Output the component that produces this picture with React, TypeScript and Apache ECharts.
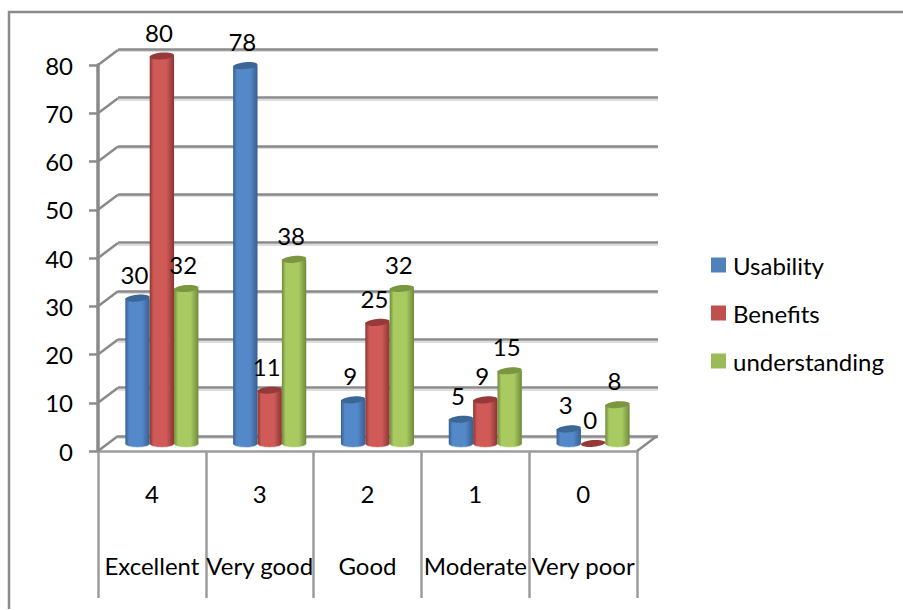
import React, { useEffect, useRef } from "react";
import * as echarts from "echarts";

// Survey ratings per category
const scores = ["4", "3", "2", "1", "0"];
const ratings = ["Excellent", "Very good", "Good", "Moderate", "Very poor"];
const usability = [30, 78, 9, 5, 3];
const benefits = [80, 11, 25, 9, 0];
const understanding = [32, 38, 32, 15, 8];
const valueTicks = [0, 10, 20, 30, 40, 50, 60, 70, 80];

const FONT = "Lato, sans-serif";
const TEXT_SIZE = 24;
const AXIS_GREY = "#8a8a8a";
const SEPARATOR_GREY = "#9c9c9c";

// Face colours of a cylinder: edge, centre, top cap, base fringe
const palette = {
  Usability: { edge: "#365f91", mid: "#5489c9", cap: "#3b6797", base: "#c3d7ee", legend: "#4f81bd" },
  Benefits: { edge: "#8a3532", mid: "#cf5a57", cap: "#953a38", base: "#eccccb", legend: "#c0504d" },
  understanding: { edge: "#6f8a3c", mid: "#a8ca60", cap: "#7a963f", base: "#e2eecb", legend: "#9bbb59" },
};

// Depth offset between the front axes and the back wall
const DX = 20;
const DY = 15;
const FRONT = { left: 98, right: 637, top: 65, bottom: 451 };

function cylinder(slot: number, colors: (typeof palette)["Usability"]) {
  return (params: any, api: any) => {
    const index = api.value(0);
    const value = api.value(1);
    const [cx0, base] = api.coord([index, 0]);
    const [, top] = api.coord([index, value]);
    const band = api.size([1, 0])[0];
    const width = band * 0.226;
    const cx = cx0 + slot * width;
    const rx = width / 2;
    const ry = 3.4;
    const tilt = 0.09;
    const body = new echarts.graphic.LinearGradient(0, 0, 1, 0, [
      { offset: 0, color: colors.edge },
      { offset: 0.16, color: colors.mid },
      { offset: 0.68, color: colors.mid },
      { offset: 1, color: colors.edge },
    ]);
    const children: any[] = [];
    if (value > 0) {
      children.push(
        { type: "ellipse", shape: { cx, cy: base + 0.8, rx, ry }, style: { fill: colors.base } },
        { type: "ellipse", shape: { cx, cy: base, rx, ry }, style: { fill: body } },
        { type: "rect", shape: { x: cx - rx, y: top, width, height: base - top }, style: { fill: body } }
      );
    }
    children.push(
      {
        type: "ellipse",
        shape: { cx, cy: top, rx, ry },
        rotation: tilt,
        originX: cx,
        originY: top,
        style: { fill: colors.cap },
      },
      {
        type: "text",
        x: cx - 3,
        y: top - 24,
        style: {
          text: String(value),
          align: "center",
          verticalAlign: "middle",
          font: `${TEXT_SIZE}px ${FONT}`,
          fill: "#000",
        },
      }
    );
    return { type: "group", children };
  };
}

function seriesFor(name: keyof typeof palette, values: number[], slot: number) {
  return {
    type: "custom",
    name,
    xAxisIndex: 0,
    yAxisIndex: 0,
    z: 5,
    itemStyle: { color: palette[name].legend },
    encode: { x: 0, y: 1 },
    data: values.map((v, i) => [i, v]),
    renderItem: cylinder(slot, palette[name]),
  };
}

export default function App() {
  const ref = useRef<HTMLDivElement>(null);

  useEffect(() => {
    const chart = echarts.init(ref.current!, undefined, { renderer: "svg" });
    const frontY = (v: number) =>
      FRONT.bottom - (v / 80) * (FRONT.bottom - FRONT.top);
    const line = (x1: number, y1: number, x2: number, y2: number) => ({
      type: "line",
      z: 1,
      shape: { x1, y1, x2, y2 },
      style: { stroke: AXIS_GREY, lineWidth: 2.5 },
    });
    const wallGrid = (offset: number) => ({
      left: FRONT.left + DX,
      width: FRONT.right - FRONT.left + 1,
      top: FRONT.top - DY - 1 + offset,
      height: FRONT.bottom - FRONT.top + 1,
    });
    const wallX = (gridIndex: number) => ({ gridIndex, type: "category", data: scores, show: false });
    const wallY = (gridIndex: number, color: number | string, width: number, z: number) => ({
      gridIndex,
      type: "value",
      min: 0,
      max: 80,
      interval: 10,
      z,
      axisLine: { show: false },
      axisTick: { show: false },
      axisLabel: { show: false },
      splitLine: { lineStyle: { color, width } },
    });

    chart.setOption({
      animation: false,
      backgroundColor: "#ffffff",
      textStyle: { fontFamily: FONT },
      legend: {
        orient: "vertical",
        left: 711,
        top: 253,
        padding: 0,
        itemWidth: 15,
        itemHeight: 15,
        itemGap: 24,
        icon: "rect",
        textStyle: { fontSize: TEXT_SIZE, fontFamily: FONT, color: "#000", padding: [0, 0, 0, 2] },
        data: ["Usability", "Benefits", "understanding"],
      },
      grid: [
        // cylinders, set between the front axes and the back wall
        { left: 108, width: 539, top: 56, height: 387.5 },
        // back wall and the pale edge under its lines
        wallGrid(0),
        wallGrid(2),
        // front axes
        { left: FRONT.left, width: FRONT.right - FRONT.left, top: FRONT.top, height: FRONT.bottom - FRONT.top },
      ],
      xAxis: [
        wallX(0),
        wallX(1),
        wallX(2),
        {
          gridIndex: 3,
          type: "category",
          data: scores,
          axisLine: { lineStyle: { color: SEPARATOR_GREY, width: 2.5 } },
          axisTick: { show: true, interval: 0, length: 147, lineStyle: { color: SEPARATOR_GREY, width: 2.5 } },
          axisLabel: { margin: 30, fontSize: TEXT_SIZE, color: "#000", fontFamily: FONT },
        },
        {
          gridIndex: 3,
          type: "category",
          data: ratings,
          position: "bottom",
          axisLine: { show: false },
          axisTick: { show: false },
          axisLabel: { margin: 102, fontSize: TEXT_SIZE, color: "#000", fontFamily: FONT, interval: 0 },
        },
      ],
      yAxis: [
        { gridIndex: 0, type: "value", min: 0, max: 80, show: false },
        wallY(1, AXIS_GREY, 2.5, 1),
        wallY(2, "#d2d2d2", 1.5, 0),
        {
          gridIndex: 3,
          type: "value",
          min: 0,
          max: 80,
          interval: 10,
          splitLine: { show: false },
          axisLine: { show: true, lineStyle: { color: AXIS_GREY, width: 3.5 } },
          axisTick: { show: true, length: 9, lineStyle: { color: AXIS_GREY, width: 2.5 } },
          axisLabel: { margin: 25, fontSize: TEXT_SIZE, color: "#000", fontFamily: FONT },
        },
      ],
      series: [
        seriesFor("Usability", usability, -1),
        seriesFor("Benefits", benefits, 0),
        seriesFor("understanding", understanding, 1),
      ],
      graphic: [
        // outer frame, open on the right and at the bottom
        {
          type: "polyline",
          z: 0,
          shape: { points: [[9, 609], [9, 12], [903, 12]] },
          style: { stroke: AXIS_GREY, lineWidth: 2.5, fill: "none" },
        },
        // side wall and floor edges running back from the front axes
        ...valueTicks.map((v) => line(FRONT.left, frontY(v), FRONT.left + DX, frontY(v) - DY)),
        line(FRONT.right, FRONT.bottom, FRONT.right + DX, FRONT.bottom - DY),
      ],
    });
    return () => chart.dispose();
  }, []);

  return <div ref={ref} style={{ position: "fixed", left: 0, top: 0, width: 903, height: 610 }} />;
}
